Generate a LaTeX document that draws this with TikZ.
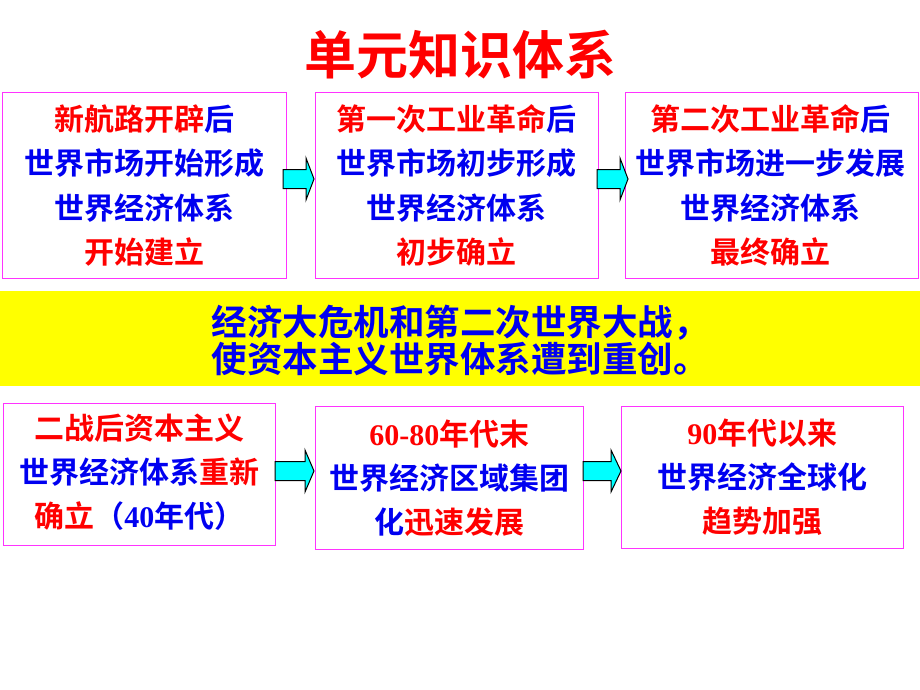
\documentclass[tikz,border=0pt]{standalone}
\usepackage{fontspec}
\newfontfamily\cjk{Noto Sans CJK SC Bold}
\newfontfamily\tnr{Liberation Serif}
\usetikzlibrary{calc}
\definecolor{boxline}{RGB}{255,51,255}
\definecolor{tred}{RGB}{255,0,0}
\definecolor{tblue}{RGB}{0,0,240}
\definecolor{arrowfill}{RGB}{0,255,255}
\definecolor{bandfill}{RGB}{255,255,0}
\newcommand\R[1]{{\color{tred}#1}}
\newcommand\B[1]{{\color{tblue}#1}}
\newcommand\D[1]{{\tnr\bfseries #1}}
\newcommand\kblockarrow[3]{%
  \draw[barrow] ($(#1)+(0,-9.5)$) -- ($(#2)+(0,-9.5)$) -- ($(#2)+(0,-21)$) -- (#3)
    -- ($(#2)+(0,21)$) -- ($(#2)+(0,9.5)$) -- ($(#1)+(0,9.5)$) -- cycle;}
\tikzset{
  kbox/.style={draw=boxline, line width=0.9pt, inner sep=0pt, anchor=north west},
  ktext/.style={align=center, inner sep=0pt, font=\cjk\fontsize{30}{44.5}\selectfont},
  ktexttwo/.style={align=center, inner sep=0pt, font=\cjk\fontsize{30}{44}\selectfont},
  barrow/.style={draw=black, fill=arrowfill, line width=1pt, line join=miter},
}
\begin{document}
\begin{tikzpicture}[x=1pt,y=-1pt]
\useasboundingbox (0,0) rectangle (920,690);
% title
\node[inner sep=0pt, text=tred, font=\cjk\fontsize{52}{60}\selectfont] (title) at (460,55) {单元知识体系};
% row 1 boxes
\node[kbox, minimum width=284pt, minimum height=186pt] (b1) at (2,92) {};
\node[kbox, minimum width=283pt, minimum height=186pt] (b2) at (315,92) {};
\node[kbox, minimum width=293pt, minimum height=186pt] (b3) at (625,92) {};
\node[ktext] (t1) at (b1.center) {\R{新航路开辟}\B{后}\\\B{世界市场开始形成}\\\B{世界经济体系}\\\R{开始建立}};
\node[ktext] (t2) at (b2.center) {\R{第一次工业革命}\B{后}\\\B{世界市场初步形成}\\\B{世界经济体系}\\\R{初步确立}};
\node[ktext] (t3) at ($(b3.center)+(-1,0)$) {\R{第二次工业革命}\B{后}\\\B{世界市场进一步发展}\\\B{世界经济体系}\\\R{最终确立}};
% band
\fill[bandfill] (0,291) rectangle (920,386);
\node[align=center, inner sep=0pt, text=tblue, font=\cjk\fontsize{35.5}{37}\selectfont] (band) at (460,340)
  {经济大危机和第二次世界大战，\\使资本主义世界体系遭到重创。};
% row 2 boxes
\node[kbox, minimum width=272pt, minimum height=142pt] (b4) at (3,403) {};
\node[kbox, minimum width=268pt, minimum height=143pt] (b5) at (315,406) {};
\node[kbox, minimum width=282pt, minimum height=142pt] (b6) at (621,406) {};
\node[ktexttwo] (t4) at ($(b4.center)+(0,-2)$) {\R{二战后资本主义}\\\B{世界经济体系}\R{重新}\\\R{确立}\B{（\D{40}年代）}};
\node[ktexttwo] (t5) at (b5.center) {\R{\D{60-80}年代末}\\\B{世界经济区域集团}\\\B{化}\R{迅速发展}};
\node[ktexttwo] (t6) at (b6.center) {\R{\D{90}年代以来}\\\B{世界经济全球化}\\\R{趋势加强}};
% arrows
\coordinate (a1s) at (283,179); \coordinate (a1h) at (306,179); \coordinate (a1e) at (314,179);
\coordinate (a2s) at (597,179); \coordinate (a2h) at (620,179); \coordinate (a2e) at (628,179);
\coordinate (a3s) at (275,471); \coordinate (a3h) at (305,471); \coordinate (a3e) at (314,471);
\coordinate (a4s) at (583,471); \coordinate (a4h) at (611,471); \coordinate (a4e) at (621,471);
\kblockarrow{a1s}{a1h}{a1e}
\kblockarrow{a2s}{a2h}{a2e}
\kblockarrow{a3s}{a3h}{a3e}
\kblockarrow{a4s}{a4h}{a4e}
\end{tikzpicture}
\end{document}
